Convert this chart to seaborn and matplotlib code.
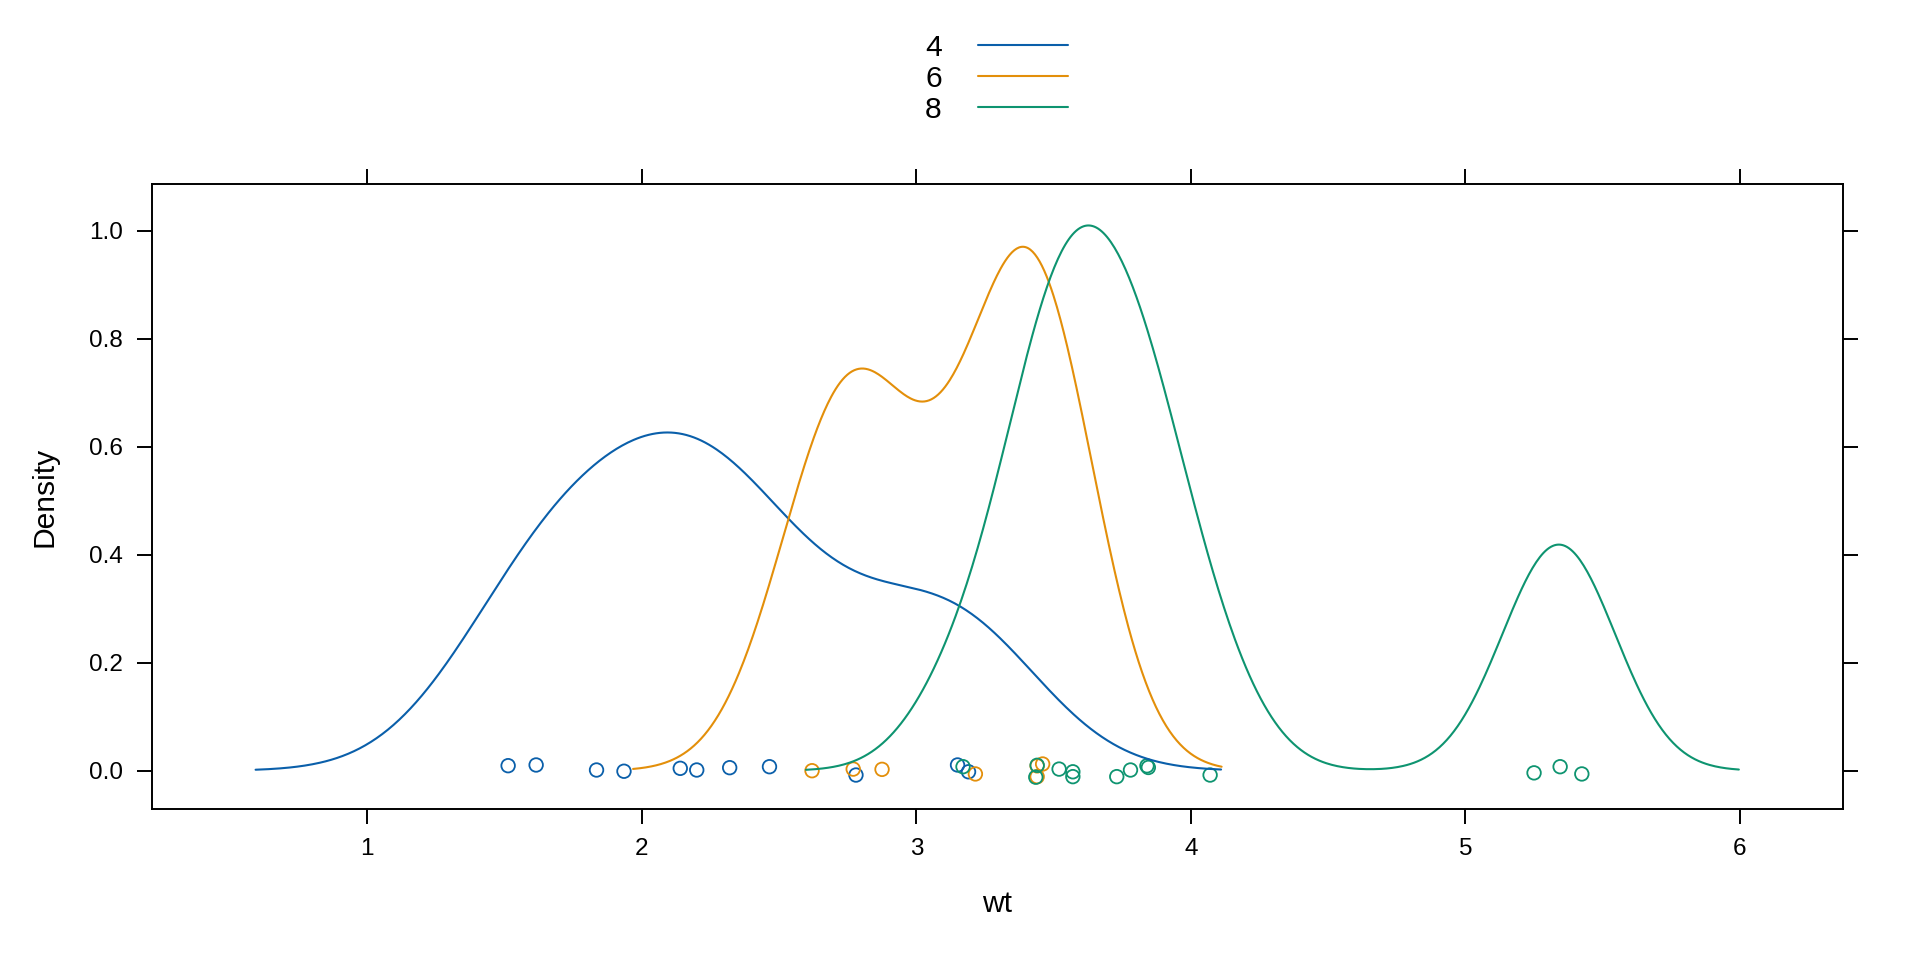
import numpy as np
import pandas as pd
import matplotlib
matplotlib.use("Agg")
import matplotlib.pyplot as plt
import seaborn as sns
from matplotlib.lines import Line2D

# mtcars: peso (wt) por número de cilindros
wt_4 = [2.320, 3.190, 3.150, 2.200, 1.615, 1.835, 2.465, 1.935, 2.140, 1.513, 2.780]
wt_6 = [2.620, 2.875, 3.215, 3.460, 3.440, 3.440, 2.770]
wt_8 = [3.440, 3.570, 4.070, 3.730, 3.780, 5.250, 5.424, 5.345, 3.520, 3.435, 3.840, 3.845, 3.170, 3.570]

jit_4 = [0.0056, -0.0020, 0.0106, 0.0013, 0.0106, 0.0013, 0.0074, -0.0010, 0.0044, 0.0093, -0.0080]
jit_6 = [0.0000, 0.0025, -0.0060, 0.0124, 0.0090, -0.0110, 0.0030]
jit_8 = [0.0100, -0.0020, -0.0080, -0.0110, 0.0013, -0.0040, -0.0060, 0.0074, 0.0030, -0.0120, 0.0090, 0.0060, 0.0074, -0.0110]

groups = ["4", "6", "8"]
cores = ["#0A5FAA", "#E38F0A", "#0E9470"]

df = pd.concat([
    pd.DataFrame({"wt": wt_4, "jit": jit_4, "cyl": "4"}),
    pd.DataFrame({"wt": wt_6, "jit": jit_6, "cyl": "6"}),
    pd.DataFrame({"wt": wt_8, "jit": jit_8, "cyl": "8"}),
])


def bw_nrd0(x):
    # mesma largura de banda do R (bw.nrd0)
    x = np.asarray(x)
    sd = x.std(ddof=1)
    iqr = np.subtract(*np.percentile(x, [75, 25]))
    lo = min(sd, iqr / 1.34)
    return 0.9 * lo * len(x) ** (-0.2), sd


sns.set_theme(style="white")
plt.rcParams["font.family"] = ["Liberation Sans", "DejaVu Sans"]
plt.rcParams["text.color"] = "black"
plt.rcParams["axes.labelcolor"] = "black"

fig = plt.figure(figsize=(19.2, 9.6), dpi=100)
ax = fig.add_axes([0.0790, 0.1573, 0.9597 - 0.0790, 0.808 - 0.1573])

for g, cor in zip(groups, cores):
    sub = df[df["cyl"] == g]
    bw, sd = bw_nrd0(sub["wt"])
    sns.kdeplot(x=sub["wt"], bw_method=bw / sd, cut=3, gridsize=512,
                color=cor, linewidth=1.5, ax=ax)
    sns.scatterplot(x=sub["wt"], y=sub["jit"], marker="o", s=95,
                    facecolor="none", edgecolor=cor, linewidth=1.3, ax=ax)

ax.set_xlim(0.2146, 6.374)
ax.set_ylim(-0.0709, 1.0859)
ax.set_xticks([1, 2, 3, 4, 5, 6])
ax.set_yticks([0.0, 0.2, 0.4, 0.6, 0.8, 1.0])
ax.set_yticklabels(["0.0", "0.2", "0.4", "0.6", "0.8", "1.0"])

for s in ax.spines.values():
    s.set_visible(True)
    s.set_color("black")
    s.set_linewidth(1.4)

ax.tick_params(axis="both", which="major", direction="out", length=10.8, width=1.4,
               color="black", labelsize=17.5, labelcolor="black", pad=10,
               top=True, right=True, bottom=True, left=True,
               labeltop=False, labelright=False)

ax.set_xlabel("wt", fontsize=21.6, labelpad=22, color="black")
ax.set_ylabel("Density", fontsize=21.6, labelpad=22, color="black")

# legenda no topo: texto e depois a linha
handles = [Line2D([], [], color=c, linewidth=1.5) for c in cores]
leg = fig.legend(handles, groups, loc="center", bbox_to_anchor=(0.519, 0.918),
                 markerfirst=False, frameon=False, fontsize=21.6,
                 handlelength=3.0, handletextpad=1.2, labelspacing=0.1,
                 borderpad=0.2)
for t in leg.get_texts():
    t.set_color("black")

fig.savefig("out.png", dpi=100)
